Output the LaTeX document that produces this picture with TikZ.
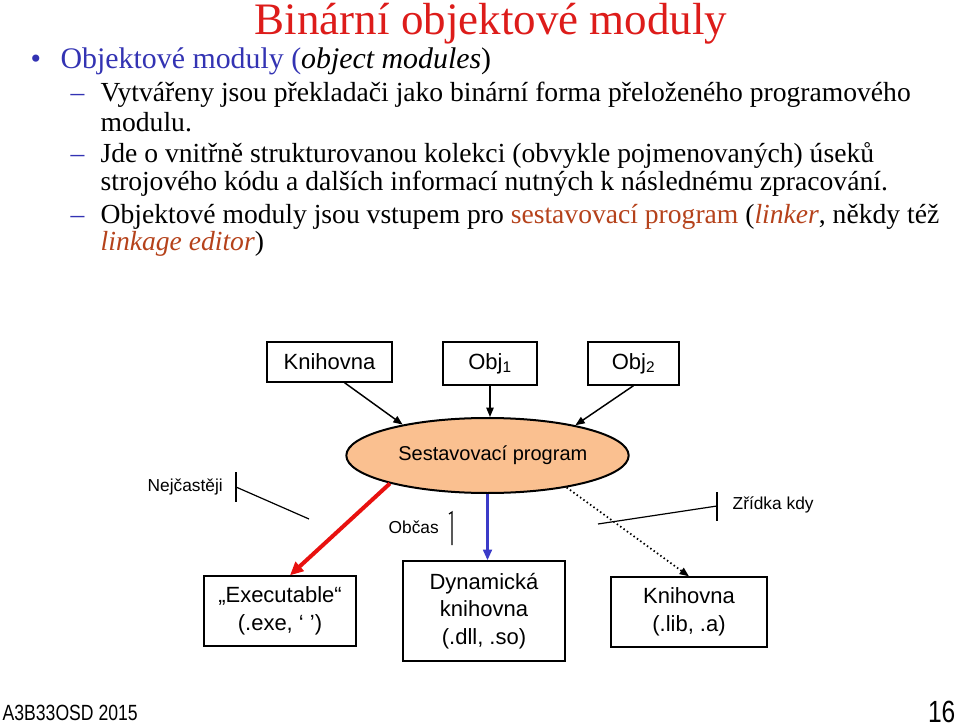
\documentclass[tikz,border=0pt]{standalone}
\usepackage{fontspec}
\setmainfont{Liberation Serif}
\setsansfont{Liberation Sans}
\newfontfamily\narrowsans{Liberation Sans}[FakeStretch=0.8]
\usetikzlibrary{arrows.meta, positioning, shapes.geometric, calc}
\definecolor{ctitle}{HTML}{DD1C1A}
\definecolor{cblue}{HTML}{3333B3}
\definecolor{corange}{HTML}{B5421B}
\definecolor{cfill}{HTML}{FAC090}
\definecolor{cred}{HTML}{E8110F}
\definecolor{carrowblue}{HTML}{3B3BC8}
\tikzset{
  every picture/.style={x=0.75pt, y=-0.75pt, line width=1pt},
  txt/.style={anchor=base west, inner sep=0pt, font=\fontsize{20.7}{24}\selectfont},
  txtbig/.style={txt, font=\fontsize{22.4}{26}\selectfont},
  box/.style={draw=black, line width=1pt, fill=white, inner sep=0pt, align=center, font=\sffamily\fontsize{16.5}{20.6}\selectfont},
  arrow/.style={-{Triangle[length=7pt, width=5.5pt]}, line width=1.1pt},
  note/.style={anchor=west, inner sep=0pt, font=\sffamily\fontsize{13}{15}\selectfont},
  tick/.style={line width=0.9pt},
}

\begin{document}
\begin{tikzpicture}
  \useasboundingbox (0,0) rectangle (960,727);
  % title and text
  \node[anchor=base, inner sep=0pt, text=ctitle, font=\fontsize{33.75}{38}\selectfont] (title) at (491,35) {Binární objektové moduly};
  \node[txtbig, text=cblue] (bul) at (30,69) {•};
  \node[txtbig] (l1) at (60,69) {\textcolor{cblue}{Objektové moduly (}\textit{object modules})};
  \node[txt, text=cblue] (d1) at (70,102) {–};
  \node[txt] (l2) at (100,102) {Vytvářeny jsou překladači jako binární forma přeloženého programového};
  \node[txt] (l3) at (100,132) {modulu.};
  \node[txt, text=cblue] (d2) at (70,163) {–};
  \node[txt] (l4) at (100,163) {Jde o vnitřně strukturovanou kolekci (obvykle pojmenovaných) úseků};
  \node[txt] (l5) at (100,191) {strojového kódu a dalších informací nutných k následnému zpracování.};
  \node[txt, text=cblue] (d3) at (70,224) {–};
  \node[txt] (l6) at (100,224) {Objektové moduly jsou vstupem pro \textcolor{corange}{sestavovací program} (\textcolor{corange}{\textit{linker}}, někdy též};
  \node[txt] (l7) at (100,251) {\textcolor{corange}{\textit{linkage editor}})};

  % inputs
  \node[box, minimum width=93.75pt, minimum height=30pt] (knih) at (329.5,362) {Knihovna};
  \node[box, minimum width=70.5pt, minimum height=32.25pt] (obj1) at (490,363.5) {Obj\textsubscript{1}};
  \node[box, minimum width=68.25pt, minimum height=32.25pt] (obj2) at (633.5,363.5) {Obj\textsubscript{2}};
  \node[ellipse, draw=black, line width=1.5pt, fill=cfill, inner sep=0pt, minimum width=188.25pt, minimum height=56.25pt, font=\sffamily\fontsize{15}{18}\selectfont] (sestav) at (487.5,455.5) {\hspace{8pt}Sestavovací program};

  % outputs
  \node[box, minimum width=114pt, minimum height=52.5pt] (exe) at (280,611) {„Executable“\\(.exe, ‘ ’)};
  \node[box, minimum width=121.5pt, minimum height=75pt] (dyn) at (484,611) {Dynamická\\knihovna\\(.dll, .so)};
  \node[box, minimum width=117pt, minimum height=52.5pt] (lib) at (689,612) {Knihovna\\(.lib, .a)};

  \draw[arrow] ($(knih.south)+(15,0)$) -- (sestav.160);
  \draw[arrow] (obj1.south) -- (obj1.south |- sestav.north);
  \draw[arrow] (obj2.south) -- (sestav.19);
  \draw[-{Triangle[length=10pt, width=9pt]}, line width=3pt, draw=cred, fill=cred] (sestav.196) -- ($(exe.north)+(10,0)$);
  \draw[-{Triangle[length=8pt, width=6.5pt]}, line width=1.9pt, draw=carrowblue, fill=carrowblue] (sestav.south) -- (sestav.south |- dyn.north);
  \draw[arrow, dotted, line width=1.3pt] (sestav.-22) -- (lib.north);

  % notes
  \node[note] (nejc) at (147,487) {Nejčastěji};
  \coordinate (nejctop) at (236,472);
  \coordinate (nejcbot) at (236,502);
  \coordinate (nejcmid) at (236,487);
  \coordinate (nejcend) at (309,519);
  \draw[tick] (nejctop) -- (nejcbot);
  \draw[tick] (nejcmid) -- (nejcend);
  \node[note] (obcas) at (388,527) {Občas};
  \coordinate (obcastop) at (452,512);
  \coordinate (obcasbot) at (452,545);
  \draw[tick] ($(obcastop)+(-3,2)$) -- (obcastop) -- (obcasbot);
  \node[note] (zrid) at (732,505) {Zřídka kdy};
  \coordinate (zridtop) at (717,492);
  \coordinate (zridbot) at (717,521);
  \coordinate (zridmid) at (717,506);
  \coordinate (zridend) at (598,524);
  \draw[tick] (zridtop) -- (zridbot);
  \draw[tick] (zridmid) -- (zridend);

  % footer
  \node[anchor=base west, inner sep=0pt, font=\narrowsans\fontsize{16.5}{18}\selectfont] (foot) at (2,720) {A3B33OSD 2015};
  \node[anchor=base east, inner sep=0pt, font=\narrowsans\fontsize{23}{26}\selectfont] (page) at (956,722) {16};
\end{tikzpicture}
\end{document}
